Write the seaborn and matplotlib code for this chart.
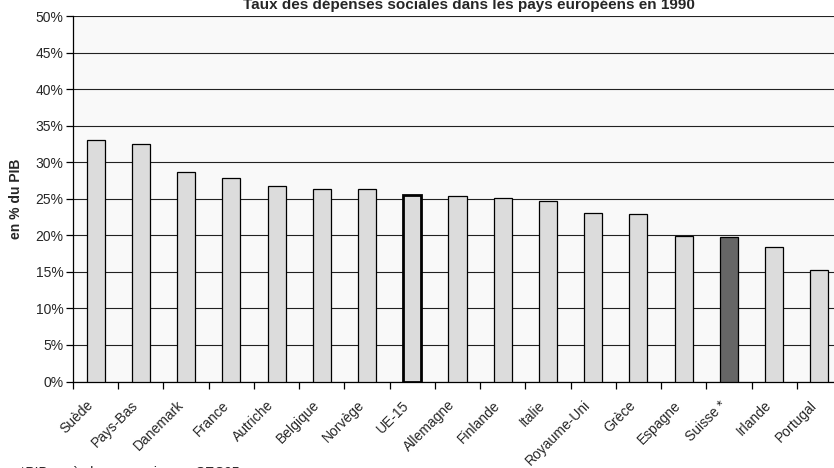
import matplotlib
matplotlib.use("Agg")
import matplotlib.pyplot as plt
import seaborn as sns
import pandas as pd
from matplotlib.ticker import MultipleLocator, PercentFormatter

# Social expenditure as a share of GDP, 1990
pays = ["Suède", "Pays-Bas", "Danemark", "France", "Autriche", "Belgique",
        "Norvège", "UE-15", "Allemagne", "Finlande", "Italie", "Royaume-Uni",
        "Grèce", "Espagne", "Suisse *", "Irlande", "Portugal"]
taux = [33.1, 32.5, 28.7, 27.9, 26.7, 26.4, 26.3, 25.5, 25.4, 25.1, 24.7,
        23.0, 22.9, 19.9, 19.7, 18.4, 15.2]
titre = "Taux des dépenses sociales dans les pays européens en 1990"
label_y = "en % du PIB"
note = "*PIB après la conversion en SEC95"

df = pd.DataFrame({"pays": pays, "taux": taux})

sns.set_theme(style="white")
plt.rcParams["font.family"] = ["Liberation Sans", "DejaVu Sans"]

W, H = 834, 468
FS = 10
fig = plt.figure(figsize=(W / 100, H / 100), dpi=100)
fig.patch.set_facecolor("white")
left, right, bottom, top = 73, 842, 381.5, 16
ax = fig.add_axes([left / W, 1 - bottom / H, (right - left) / W, (bottom - top) / H])
ax.set_facecolor("#f9f9f9")

couleurs = ["#666666" if p.startswith("Suisse") else "#dcdcdc" for p in pays]
sns.barplot(data=df, x="pays", y="taux", hue="pays", palette=couleurs,
            legend=False, width=0.4, edgecolor="black", linewidth=0.9,
            ax=ax, zorder=3)
for patch, p in zip(ax.patches, pays):
    if p == "UE-15":
        patch.set_linewidth(2.0)

ax.set_ylim(0, 50)
ax.set_xlim(-0.5, len(pays) - 0.5)
ax.yaxis.set_major_locator(MultipleLocator(5))
ax.yaxis.set_major_formatter(PercentFormatter(decimals=0))
ax.grid(axis="y", color="#222222", linewidth=0.8, zorder=0)
ax.set_axisbelow(True)

for s in ["top", "right"]:
    ax.spines[s].set_visible(False)
for s in ["left", "bottom"]:
    ax.spines[s].set_color("black")
    ax.spines[s].set_linewidth(0.9)

# x ticks at category boundaries, labels at category centres
ax.set_xticks([i - 0.5 for i in range(len(pays) + 1)], minor=False)
ax.set_xticklabels([])
ax.set_xticks(range(len(pays)), minor=True)
ax.set_xticklabels(pays, minor=True, rotation=45, ha="right", va="bottom",
                   rotation_mode="anchor", fontsize=FS)
ax.tick_params(axis="x", which="major", direction="out", length=5,
               width=0.9, color="black", bottom=True)
ax.tick_params(axis="x", which="minor", length=0, pad=19)
ax.tick_params(axis="y", direction="out", length=5, width=0.9,
               color="black", left=True, labelsize=FS, pad=2)

ax.set_xlabel("")
ax.set_ylabel(label_y, fontsize=FS, fontweight="bold")
ax.yaxis.set_label_coords((23 - left) / (right - left), 0.5)

fig.text(469 / W, 1 - 9 / H, titre, ha="center", va="baseline",
         fontsize=11, fontweight="bold")
fig.text(20 / W, 1 - 477 / H, note, ha="left", va="baseline", fontsize=FS)

fig.savefig("out.png", dpi=100)
